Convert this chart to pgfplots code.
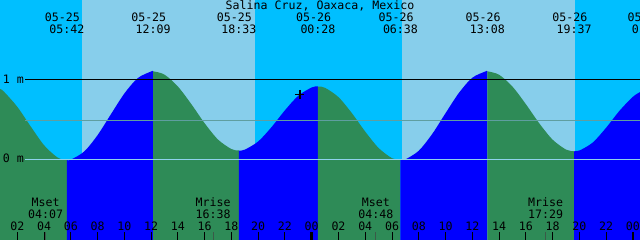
\documentclass[border=0pt]{standalone}
\usepackage{pgfplots}
\pgfplotsset{compat=1.18}
\usepackage{pgfplotstable}
\usepgfplotslibrary{fillbetween}
\usepackage{fontspec}
\setmainfont{DejaVu Sans Mono}
\definecolor{night}{HTML}{00BFFF}
\definecolor{day}{HTML}{87CEEB}
\definecolor{flood}{HTML}{0000FF}
\definecolor{ebb}{HTML}{2E8B57}
\definecolor{midline}{HTML}{5F9EA0}
\definecolor{datum}{HTML}{8FD2EC}
\definecolor{moontick}{HTML}{3A5A48}

\pgfplotstableread{
h v
0.70 0.880
1 0.845
2 0.655
3 0.410
4 0.175
5 0.023
5.70 -0.01
6 -0.004
7 0.098
8 0.303
9 0.565
10 0.823
11 1.015
12 1.098
12.15 1.10
13 1.058
14 0.909
15 0.690
16 0.450
17 0.246
18 0.128
18.55 0.11
19 0.121
20 0.223
21 0.403
22 0.613
23 0.795
24 0.898
24.467 0.91
25 0.893
26 0.777
27 0.577
28 0.346
29 0.141
30 0.014
30.633 -0.01
31 -0.001
32 0.107
33 0.315
34 0.576
35 0.830
36 1.019
37 1.099
37.133 1.10
38 1.057
39 0.909
40 0.690
41 0.451
42 0.246
43 0.122
43.617 0.10
44 0.109
45 0.209
46 0.394
47 0.606
48 0.781
48.6 0.846
}\tide

\begin{document}
\begin{tikzpicture}[font=\fontsize{11.6bp}{13bp}\selectfont]
\begin{axis}[
  at={(0,0)}, anchor=south west,
  width=640bp, height=240bp, scale only axis,
  xmin=0.7025, xmax=48.535, ymin=-1.00875, ymax=1.99125,
  axis line style={draw=none},
  axis background/.style={fill=night},
  ytick=\empty,
  xtick={2,4,...,48}, xticklabels={},
  extra x ticks={4.117,16.633,28.8,41.483},
  extra x tick labels={},
  extra x tick style={tick style={moontick, line width=1bp}},
  tick align=inside, xtick pos=bottom,
  major tick length=8bp,
  tick style={black, line width=1bp},
  axis on top,
]
% frame paths
\addplot[name path=top, draw=none] coordinates {(0.70,2.1) (48.6,2.1)};
\addplot[name path=bot, draw=none] coordinates {(0.70,-1.2) (48.6,-1.2)};

% daylight
\addplot[day] fill between[of=top and bot, soft clip={domain=6.81:19.76}];
\addplot[day] fill between[of=top and bot, soft clip={domain=30.72:43.68}];

% tide curve
\addplot[name path=tide, draw=none, smooth] table {\tide};

\addplot[ebb]   fill between[of=tide and bot, soft clip={domain=0.70:5.70}];
\addplot[flood] fill between[of=tide and bot, soft clip={domain=5.70:12.15}];
\addplot[ebb]   fill between[of=tide and bot, soft clip={domain=12.15:18.55}];
\addplot[flood] fill between[of=tide and bot, soft clip={domain=18.55:24.467}];
\addplot[ebb]   fill between[of=tide and bot, soft clip={domain=24.467:30.633}];
\addplot[flood] fill between[of=tide and bot, soft clip={domain=30.633:37.133}];
\addplot[ebb]   fill between[of=tide and bot, soft clip={domain=37.133:43.617}];
\addplot[flood] fill between[of=tide and bot, soft clip={domain=43.617:48.6}];

% level lines
\addplot[black, line width=1bp] coordinates {(2.571,1) (49,1)};
\addplot[midline, line width=1bp] coordinates {(2.571,0.485) (49,0.485)};
\addplot[datum, line width=1bp] coordinates {(2.571,0) (49,0)};

% midnight ticks
\addplot[black, line width=2.5bp] coordinates {(24,-0.91) (24,-1.1)};
\addplot[black, line width=2.5bp] coordinates {(48,-0.91) (48,-1.1)};

% current time mark
\addplot[black, only marks, mark=+, mark size=4.5bp, mark options={line width=1.6bp}] coordinates {(23.12,0.81)};

% y labels
\node[anchor=base west, inner sep=0] at (axis cs:0.904,0.95) {1 m};
\node[anchor=base west, inner sep=0] at (axis cs:0.904,-0.0425) {0 m};

% title
\node[anchor=base, inner sep=0] at (axis cs:24.62,1.875) {Salina Cruz, Oaxaca, Mexico};

% tide event labels
\node[anchor=base, inner sep=0] at (axis cs:5.37,1.72) {05-25};
\node[anchor=base, inner sep=0] at (axis cs:5.70,1.568) {05:42};
\node[anchor=base, inner sep=0] at (axis cs:11.82,1.72) {05-25};
\node[anchor=base, inner sep=0] at (axis cs:12.15,1.568) {12:09};
\node[anchor=base, inner sep=0] at (axis cs:18.22,1.72) {05-25};
\node[anchor=base, inner sep=0] at (axis cs:18.55,1.568) {18:33};
\node[anchor=base, inner sep=0] at (axis cs:24.137,1.72) {05-26};
\node[anchor=base, inner sep=0] at (axis cs:24.467,1.568) {00:28};
\node[anchor=base, inner sep=0] at (axis cs:30.303,1.72) {05-26};
\node[anchor=base, inner sep=0] at (axis cs:30.633,1.568) {06:38};
\node[anchor=base, inner sep=0] at (axis cs:36.803,1.72) {05-26};
\node[anchor=base, inner sep=0] at (axis cs:37.133,1.568) {13:08};
\node[anchor=base, inner sep=0] at (axis cs:43.287,1.72) {05-26};
\node[anchor=base, inner sep=0] at (axis cs:43.617,1.568) {19:37};
\node[anchor=base, inner sep=0] at (axis cs:48.91,1.72) {05-27};
\node[anchor=base, inner sep=0] at (axis cs:49.24,1.568) {01:14};

% moon labels
\node[anchor=base, inner sep=0] at (axis cs:4.117,-0.584) {Mset};
\node[anchor=base, inner sep=0] at (axis cs:4.117,-0.7375) {04:07};
\node[anchor=base, inner sep=0] at (axis cs:16.633,-0.584) {Mrise};
\node[anchor=base, inner sep=0] at (axis cs:16.633,-0.7375) {16:38};
\node[anchor=base, inner sep=0] at (axis cs:28.8,-0.584) {Mset};
\node[anchor=base, inner sep=0] at (axis cs:28.8,-0.7375) {04:48};
\node[anchor=base, inner sep=0] at (axis cs:41.483,-0.584) {Mrise};
\node[anchor=base, inner sep=0] at (axis cs:41.483,-0.7375) {17:29};

% hour labels
\node[anchor=base, inner sep=0] at (axis cs:2,-0.884) {02};
\node[anchor=base, inner sep=0] at (axis cs:4,-0.884) {04};
\node[anchor=base, inner sep=0] at (axis cs:6,-0.884) {06};
\node[anchor=base, inner sep=0] at (axis cs:8,-0.884) {08};
\node[anchor=base, inner sep=0] at (axis cs:10,-0.884) {10};
\node[anchor=base, inner sep=0] at (axis cs:12,-0.884) {12};
\node[anchor=base, inner sep=0] at (axis cs:14,-0.884) {14};
\node[anchor=base, inner sep=0] at (axis cs:16,-0.884) {16};
\node[anchor=base, inner sep=0] at (axis cs:18,-0.884) {18};
\node[anchor=base, inner sep=0] at (axis cs:20,-0.884) {20};
\node[anchor=base, inner sep=0] at (axis cs:22,-0.884) {22};
\node[anchor=base, inner sep=0] at (axis cs:24,-0.884) {00};
\node[anchor=base, inner sep=0] at (axis cs:26,-0.884) {02};
\node[anchor=base, inner sep=0] at (axis cs:28,-0.884) {04};
\node[anchor=base, inner sep=0] at (axis cs:30,-0.884) {06};
\node[anchor=base, inner sep=0] at (axis cs:32,-0.884) {08};
\node[anchor=base, inner sep=0] at (axis cs:34,-0.884) {10};
\node[anchor=base, inner sep=0] at (axis cs:36,-0.884) {12};
\node[anchor=base, inner sep=0] at (axis cs:38,-0.884) {14};
\node[anchor=base, inner sep=0] at (axis cs:40,-0.884) {16};
\node[anchor=base, inner sep=0] at (axis cs:42,-0.884) {18};
\node[anchor=base, inner sep=0] at (axis cs:44,-0.884) {20};
\node[anchor=base, inner sep=0] at (axis cs:46,-0.884) {22};
\node[anchor=base, inner sep=0] at (axis cs:48,-0.884) {00};
\end{axis}
\pgfresetboundingbox
\path[use as bounding box] (0,0) rectangle (640bp,240bp);
\end{tikzpicture}
\end{document}
